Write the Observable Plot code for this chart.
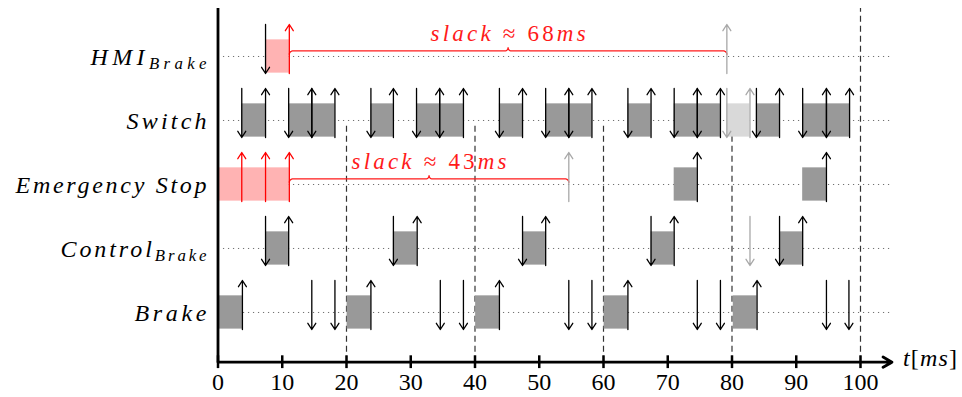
<!DOCTYPE html>
<html><head><meta charset="utf-8">
<script src="https://cdn.jsdelivr.net/npm/d3@7"></script>
<script src="https://cdn.jsdelivr.net/npm/@observablehq/plot@0.6"></script>
<style>html,body{margin:0;padding:0;background:#fff} svg{display:block}</style>
</head><body><div id="chart"></div>
<script>
// ---------------- data ----------------
const rows = ["HMI_Brake", "Switch", "Emergency Stop", "Control_Brake", "Brake"];
const tickValues = [0, 10, 20, 30, 40, 50, 60, 70, 80, 90, 100];
const periodLines = [20, 40, 60, 80];
const hyperperiod = [100];

// HMI_Brake
const hmiMissJobs = [[7.4, 11.1]];
const hmiActivations = [7.4];
const hmiMissCompletions = [11.1];
const hmiLateCompletions = [79.2];

// Switch
const switchJobs = [[3.7, 7.4], [11.0, 18.2], [23.8, 27.3], [30.9, 38.2], [43.8, 47.4],
                    [51.0, 58.2], [63.8, 67.4], [71.0, 78.2], [83.8, 87.4], [91.0, 98.3]];
const switchActivations = [3.7, 11.0, 14.6, 23.8, 30.9, 34.5, 43.8, 51.0, 54.6, 63.8, 71.0, 74.6, 83.8, 91.0, 94.7];
const switchCompletions = [7.4, 14.6, 18.2, 27.3, 34.5, 38.2, 47.4, 54.6, 58.2, 67.4, 74.6, 78.2, 87.4, 94.7, 98.3];
const switchLateJobs = [[79.2, 82.8]];
const switchLateActivations = [79.2];
const switchLateCompletions = [82.8];

// Emergency Stop
const emergencyMissJobs = [[0, 11.1]];
const emergencyMissCompletions = [3.7, 7.4, 11.1];
const emergencyLateCompletions = [54.6];
const emergencyJobs = [[71.0, 74.6], [91.0, 94.7]];
const emergencyCompletions = [74.6, 94.7];

// Control_Brake
const controlJobs = [[7.4, 11.0], [27.3, 31.0], [47.4, 51.0], [67.4, 71.0], [87.4, 91.0]];
const controlActivations = [7.4, 27.3, 47.4, 67.4, 87.4];
const controlCompletions = [11.0, 31.0, 51.0, 71.0, 91.0];
const controlLateActivations = [82.8];

// Brake
const brakeJobs = [[0, 3.8], [20.1, 23.8], [40.1, 43.8], [60.1, 63.8], [80.2, 83.9]];
const brakeCompletions = [3.8, 23.8, 43.8, 63.8, 83.9];
const brakeActivations = [14.6, 18.2, 34.6, 38.2, 54.6, 58.2, 74.6, 78.2, 94.7, 98.2];

// slack annotations
const slacks = [
  {row: "HMI_Brake", from: 11.1, to: 79.2, label: "slack ≈ 68ms"},
  {row: "Emergency Stop", from: 11.1, to: 54.6, label: "slack ≈ 43ms"}
];
const axisLabel = ["t[ms]"];

// ---------------- layout / style ----------------
const FONT = "'Liberation Serif', 'DejaVu Serif', serif";
const lane = r => rows.length - 1 - rows.indexOf(r);
const yBottom = -0.777, yTop = 4.75;
const axisEnd = 104.9;
const dotStart = 0.85, dotEnd = 104.7;
const boxHalf = 0.26, arrowUp = 0.5, arrowDown = 0.266;
const boxColor = {done: "#999999", miss: "#ffb3b3", late: "#d9d9d9"};
const arrowColor = {done: "#000000", miss: "#ff0000", late: "#a8a8a8"};
const red = "#ff1a1a";

const boxes = [];
const addBoxes = (row, list, kind) => list.forEach(([s, e]) => boxes.push({row, s, e, kind}));
addBoxes("HMI_Brake", hmiMissJobs, "miss");
addBoxes("Switch", switchJobs, "done");
addBoxes("Switch", switchLateJobs, "late");
addBoxes("Emergency Stop", emergencyMissJobs, "miss");
addBoxes("Emergency Stop", emergencyJobs, "done");
addBoxes("Control_Brake", controlJobs, "done");
addBoxes("Brake", brakeJobs, "done");

const arrows = [];
const addArrows = (row, list, dir, kind) => list.forEach(t => arrows.push({row, t, dir, kind}));
addArrows("HMI_Brake", hmiLateCompletions, "up", "late");
addArrows("Switch", switchLateActivations, "down", "late");
addArrows("Switch", switchLateCompletions, "up", "late");
addArrows("Emergency Stop", emergencyLateCompletions, "up", "late");
addArrows("Control_Brake", controlLateActivations, "down", "late");
addArrows("HMI_Brake", hmiActivations, "down", "done");
addArrows("HMI_Brake", hmiMissCompletions, "up", "miss");
addArrows("Switch", switchActivations, "down", "done");
addArrows("Switch", switchCompletions, "up", "done");
addArrows("Emergency Stop", emergencyMissCompletions, "up", "miss");
addArrows("Emergency Stop", emergencyCompletions, "up", "done");
addArrows("Control_Brake", controlActivations, "down", "done");
addArrows("Control_Brake", controlCompletions, "up", "done");
addArrows("Brake", brakeActivations, "down", "done");
addArrows("Brake", brakeCompletions, "up", "done");

// curly brace geometry built from the slack intervals
const bracePts = [];
slacks.forEach((s, id) => {
  const L = lane(s.row);
  const e = L + 2.2 / 64, f = L + 5.6 / 64, tp = L + 8.8 / 64;
  const rx = 0.6, rt = 0.5, m = (s.from + s.to) / 2;
  const arc = (cx, cy, ax, ay, a0, a1) => {
    for (let k = 0; k <= 8; k++) {
      const a = a0 + (a1 - a0) * k / 8;
      bracePts.push({id, x: cx + ax * Math.cos(a), y: cy + ay * Math.sin(a)});
    }
  };
  arc(s.from + rx, e, rx, f - e, Math.PI, Math.PI / 2);
  arc(m - rt, tp, rt, tp - f, -Math.PI / 2, 0);
  arc(m + rt, tp, rt, tp - f, Math.PI, 1.5 * Math.PI);
  arc(s.to - rx, e, rx, f - e, Math.PI / 2, 0);
});

const chart = Plot.plot({
  width: 962, height: 397,
  marginLeft: 217.5, marginRight: 102, marginTop: 8, marginBottom: 35.3,
  x: {domain: [0, 100], axis: null},
  y: {domain: [yBottom, yTop], axis: null},
  color: {type: "identity"},
  style: {fontFamily: FONT, background: "#fff", overflow: "visible"},
  marks: [
    Plot.ruleY(rows, {y: d => lane(d), x1: dotStart, x2: dotEnd, stroke: "#707070", strokeWidth: 1, strokeDasharray: "1.2,3.8"}),
    Plot.ruleX(periodLines, {x: d => d, y1: yBottom, y2: lane("Switch") - 0.0625, stroke: "#333", strokeWidth: 1.2, strokeDasharray: "6,4"}),
    Plot.ruleX(hyperperiod, {x: d => d, y1: yBottom, y2: yTop, stroke: "#333", strokeWidth: 1.2, strokeDasharray: "6,4"}),
    Plot.rect(boxes, {x1: "s", x2: "e", y1: d => lane(d.row) - boxHalf, y2: d => lane(d.row) + boxHalf, fill: d => boxColor[d.kind]}),
    Plot.line(bracePts, {x: "x", y: "y", z: "id", stroke: red, strokeWidth: 1.3}),
    Plot.arrow(arrows, {
      x1: "t", x2: "t",
      y1: d => d.dir === "down" ? lane(d.row) + arrowUp : lane(d.row) - arrowDown,
      y2: d => d.dir === "down" ? lane(d.row) - arrowDown : lane(d.row) + arrowUp,
      stroke: d => arrowColor[d.kind], strokeWidth: 1.3, headLength: 8.5, headAngle: 65
    }),
    // axes
    Plot.ruleX([0], {x: d => d, y1: yBottom, y2: yTop, stroke: "#000", strokeWidth: 2.8}),
    Plot.arrow([0], {x1: 0, x2: axisEnd, y1: yBottom, y2: yBottom, stroke: "#000", strokeWidth: 2.8, headLength: 5.5, headAngle: 60}),
    Plot.ruleX(tickValues, {x: d => d, y1: yBottom - 0.1, y2: yBottom + 0.1, stroke: "#000", strokeWidth: 2.5}),
    Plot.text(tickValues, {x: d => d, y: yBottom, text: d => String(d), lineAnchor: "top", dy: 11, fontSize: 24, fontFamily: FONT, fill: "#000"}),
    Plot.text(axisLabel, {x: axisEnd, y: yBottom, text: d => d, textAnchor: "start", dx: 11, dy: -4, fontSize: 24, fontFamily: FONT, fill: "#000"}),
    Plot.text(rows, {y: d => lane(d), text: d => d, frameAnchor: "left", textAnchor: "end", dx: -11.5, dy: 1, fontSize: 24, fontFamily: FONT, fill: "#000"}),
    Plot.text(slacks, {x: d => (d.from + d.to) / 2, y: d => lane(d.row) + 0.36, text: "label", fontSize: 23, fontFamily: FONT, fill: red})
  ]
});

// rich text: italic letters (math mode), upright symbols/digits, subscripts after "_"
const textWidths = {"HMI_Brake": 116, "Switch": 80, "Emergency Stop": 191, "Control_Brake": 146, "Brake": 72,
                    "slack ≈ 68ms": 155, "slack ≈ 43ms": 155, "t[ms]": 54};
d3.select(chart).selectAll("text").each(function () {
  const str = this.textContent;
  if (!(str in textWidths)) return;
  const sel = d3.select(this);
  sel.text(null);
  const [main, sub] = str.split("_");
  for (const m of main.matchAll(/[A-Za-z]+|[^A-Za-z]+/g)) {
    sel.append("tspan").attr("font-style", /[A-Za-z]/.test(m[0]) ? "italic" : "normal").text(m[0]);
  }
  if (sub) sel.append("tspan").attr("font-style", "italic").attr("font-size", "0.7em").attr("dy", "0.22em").text(sub);
  sel.attr("textLength", textWidths[str]).attr("lengthAdjust", "spacing");
});

document.getElementById("chart").appendChild(chart);
</script></body></html>
